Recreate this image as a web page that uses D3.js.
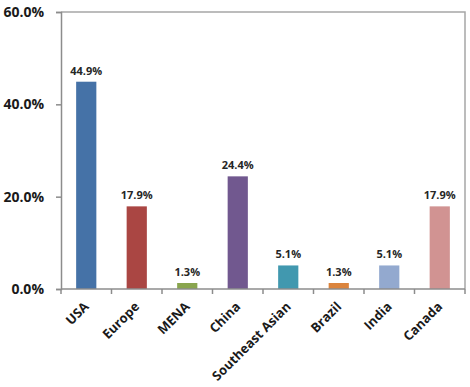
<!DOCTYPE html>
<html>
<head>
<meta charset="utf-8">
<script src="https://cdn.jsdelivr.net/npm/d3@7"></script>
<style>
  body { margin: 0; background: #fff; }
  text { font-family: "Open Sans", "DejaVu Sans", sans-serif; }
</style>
</head>
<body>
<svg id="chart" width="470" height="387"></svg>
<script>
var regions = ['USA', 'Europe', 'MENA', 'China', 'Southeast Asian', 'Brazil', 'India', 'Canada'];
var shares = [44.9, 17.9, 1.3, 24.4, 5.1, 1.3, 5.1, 17.9];
var barColours = ['#4572A7', '#AA4643', '#89A54E', '#71588F', '#4198AF', '#DB843D', '#93A9CF', '#D19392'];
var yTicks = [0, 20, 40, 60];

var svg = d3.select('#chart');
var plotLeft = 61, plotRight = 465, plotTop = 12, plotBottom = 289;

var x = d3.scaleBand().domain(regions).range([plotLeft, plotRight]).paddingInner(0).paddingOuter(0);
var y = d3.scaleLinear().domain([0, 60]).range([plotBottom, plotTop]);
var barWidth = x.bandwidth() * 0.4;

// plot border (top and right)
svg.append('path')
    .attr('d', 'M' + plotLeft + ',' + plotTop + 'H' + plotRight + 'V' + plotBottom)
    .attr('fill', 'none')
    .attr('stroke', '#a6a6a6')
    .attr('stroke-width', 1.5);

// y axis
var yAxis = svg.append('g')
    .attr('transform', 'translate(' + plotLeft + ',0)')
    .call(d3.axisLeft(y).tickValues(yTicks).tickSize(5).tickPadding(12)
        .tickFormat(function (d) { return d.toFixed(1) + '%'; }));
yAxis.select('.domain').attr('stroke', '#8c8c8c').attr('stroke-width', 1.5);
yAxis.selectAll('.tick line').attr('stroke', '#8c8c8c').attr('stroke-width', 1.5);
yAxis.selectAll('.tick text')
    .attr('fill', '#1a1a1a')
    .style('font-size', '14px')
    .style('font-weight', 'bold')
    .style('font-family', '"Open Sans", sans-serif');

// bars
svg.append('g').selectAll('rect')
    .data(shares)
    .enter()
    .append('rect')
    .attr('x', function (d, i) { return x(regions[i]) + (x.bandwidth() - barWidth) / 2; })
    .attr('y', function (d) { return y(d); })
    .attr('width', barWidth)
    .attr('height', function (d) { return plotBottom - y(d); })
    .attr('fill', function (d, i) { return barColours[i]; });

// x axis with boundary ticks
var xAxis = svg.append('g').attr('transform', 'translate(0,' + plotBottom + ')');
xAxis.append('line')
    .attr('x1', plotLeft).attr('x2', plotRight)
    .attr('stroke', '#8c8c8c').attr('stroke-width', 1.5);
var bounds = regions.map(function (r) { return x(r); }).concat([plotRight]);
xAxis.selectAll('.bound')
    .data(bounds)
    .enter()
    .append('line')
    .attr('x1', function (d) { return d; })
    .attr('x2', function (d) { return d; })
    .attr('y1', 0).attr('y2', 5)
    .attr('stroke', '#8c8c8c').attr('stroke-width', 1.5);

xAxis.selectAll('.cat')
    .data(regions)
    .enter()
    .append('text')
    .attr('transform', function (d) {
        return 'translate(' + (x(d) + x.bandwidth() / 2 - 3) + ',12) rotate(-45)';
    })
    .attr('text-anchor', 'end')
    .attr('dy', '0.7em')
    .attr('fill', '#1a1a1a')
    .style('font-size', '13px')
    .style('font-weight', 'bold')
    .text(function (d) { return d; });

// data labels
svg.append('g').selectAll('text')
    .data(shares)
    .enter()
    .append('text')
    .attr('x', function (d, i) { return x(regions[i]) + x.bandwidth() / 2; })
    .attr('y', function (d) { return y(d) - 7; })
    .attr('text-anchor', 'middle')
    .attr('fill', '#262626')
    .style('font-size', '11px')
    .style('font-weight', 'bold')
    .text(function (d) { return d.toFixed(1) + '%'; });
</script>
</body>
</html>
